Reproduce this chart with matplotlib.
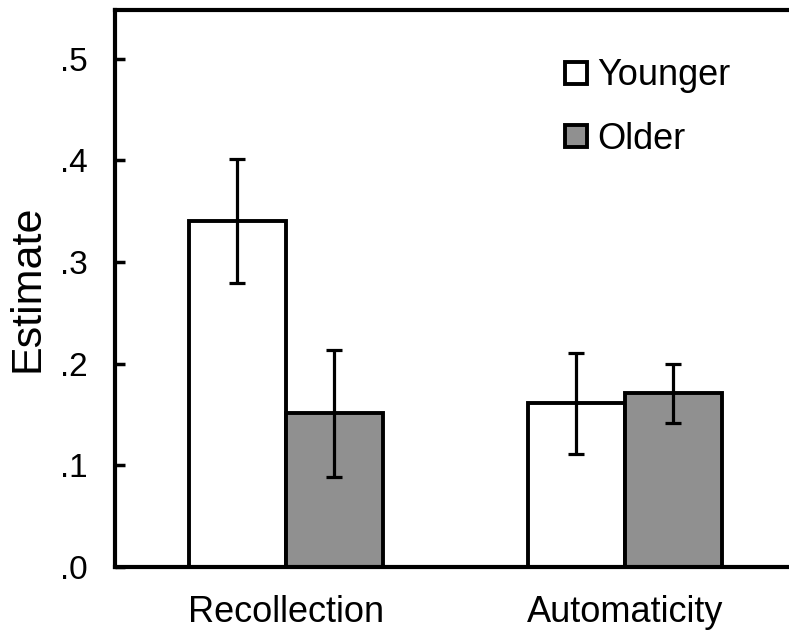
import numpy as np
import matplotlib
matplotlib.use("Agg")
import matplotlib.pyplot as plt

plt.rcParams['font.family'] = ['Liberation Sans', 'DejaVu Sans']

# data
groups = ["Recollection", "Automaticity"]
younger = [0.340, 0.161]
younger_err = [0.061, 0.050]
older = [0.151, 0.171]
older_err = [0.062, 0.029]
yticks = [0.0, 0.1, 0.2, 0.3, 0.4, 0.5]
ytick_labels = [".0", ".1", ".2", ".3", ".4", ".5"]

fig = plt.figure(figsize=(7.89, 6.32), dpi=100)
ax = fig.add_axes([0.1458, 0.1029, 0.8542, 0.8813])

x = np.arange(len(groups))
w = 0.286
err_kw = dict(ecolor="black", elinewidth=2.3, capsize=5.8, capthick=2.3)
ax.bar(x - w / 2, younger, w, yerr=younger_err, color="white",
       edgecolor="black", linewidth=2.8, label="Younger", error_kw=err_kw)
ax.bar(x + w / 2, older, w, yerr=older_err, color="#909090",
       edgecolor="black", linewidth=2.8, label="Older", error_kw=err_kw)

ax.set_xlim(-0.504, 1.484)
ax.set_ylim(0, 0.548)
ax.set_yticks(yticks)
ax.set_yticklabels(ytick_labels)
ax.set_xticks(x)
ax.set_xticklabels(groups)

ax.tick_params(axis="y", direction="in", length=7, width=2.5, labelsize=24, pad=20)
ax.tick_params(axis="x", length=0, labelsize=26, pad=20)

for side in ["left", "bottom", "top"]:
    ax.spines[side].set_linewidth(3.0)
ax.spines["right"].set_visible(False)

ax.set_ylabel("Estimate", fontsize=31)
ax.yaxis.set_label_coords(-0.1, 0.5)

ax.legend(loc="upper left", bbox_to_anchor=(0.667, 0.913), frameon=False,
          fontsize=26, handlelength=0.61, handleheight=0.56,
          handletextpad=0.3, labelspacing=0.79, borderpad=0,
          borderaxespad=0)

fig.savefig("out.png", dpi=100)
